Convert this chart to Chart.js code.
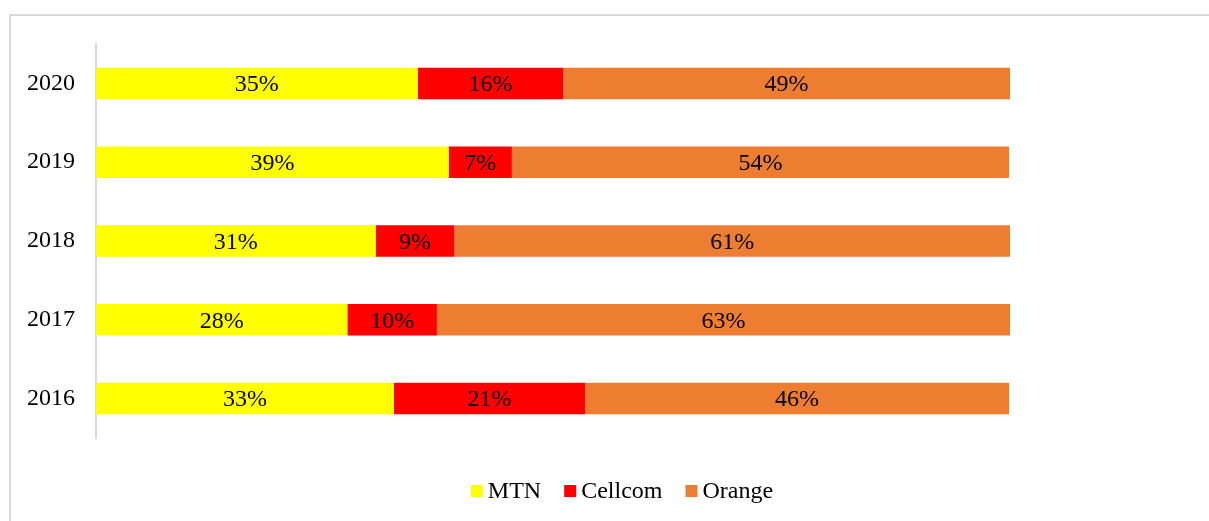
<!DOCTYPE html>
<html>
<head>
<meta charset="utf-8">
<script src="https://cdn.jsdelivr.net/npm/chart.js@4"></script>
<style>
  html, body { margin: 0; padding: 0; background: #fff; }
  #wrap { width: 1209px; height: 521px; position: relative; }
</style>
</head>
<body>
<div id="wrap"><canvas id="barChart"></canvas></div>
<script>
// Dados do gráfico
const years = ["2020", "2019", "2018", "2017", "2016"];
const mtn = [35.2, 38.6, 30.6, 27.5, 32.6];
const cellcom = [15.9, 6.9, 8.6, 9.8, 20.9];
const orange = [48.9, 54.4, 60.8, 62.7, 46.4];

const serif = "'Liberation Serif', 'Times New Roman', serif";

// moldura cinza do gráfico
const frame = {
  id: 'frame',
  beforeDraw(chart) {
    const c = chart.ctx;
    c.save();
    c.strokeStyle = '#d9d9d9';
    c.lineWidth = 2;
    c.strokeRect(10, 15, 1300, 600);
    c.restore();
  }
};

// rótulos de percentagem no meio de cada segmento
const segLabels = {
  id: 'segLabels',
  afterDatasetsDraw(chart) {
    const c = chart.ctx;
    c.save();
    c.font = "24px " + serif;
    c.fillStyle = '#000';
    c.textAlign = 'center';
    c.textBaseline = 'middle';
    chart.data.datasets.forEach((ds, i) => {
      chart.getDatasetMeta(i).data.forEach((bar, j) => {
        const cx = (bar.x + bar.base) / 2;
        c.fillText(Math.round(ds.data[j]) + '%', cx, bar.y + 1.5);
      });
    });
    c.restore();
  }
};

// legenda em baixo, estilo Excel (caixa pequena colada ao texto)
const bottomLegend = {
  id: 'bottomLegend',
  afterDraw(chart) {
    const c = chart.ctx;
    const sets = chart.data.datasets;
    c.save();
    c.font = "24px " + serif;
    c.textBaseline = 'middle';
    const box = 12, gap = 5, spacing = 23;
    const widths = sets.map(ds => box + gap + c.measureText(ds.label).width);
    const total = widths.reduce((a, b) => a + b, 0) + spacing * (sets.length - 1);
    let x = 622 - total / 2;
    const y = 491;
    sets.forEach((ds, i) => {
      c.fillStyle = ds.backgroundColor;
      c.fillRect(x, y - box / 2, box, box);
      c.fillStyle = '#000';
      c.fillText(ds.label, x + box + gap, y + 1);
      x += widths[i] + spacing;
    });
    c.restore();
  }
};

const config = {
  type: 'bar',
  data: {
    labels: years,
    datasets: [
      { label: 'MTN', data: mtn, backgroundColor: '#ffff00' },
      { label: 'Cellcom', data: cellcom, backgroundColor: '#ff0000' },
      { label: 'Orange', data: orange, backgroundColor: '#ed7d31' }
    ]
  },
  options: {
    indexAxis: 'y',
    responsive: true,
    maintainAspectRatio: false,
    animation: false,
    categoryPercentage: 0.8,
    barPercentage: 0.5,
    layout: { padding: { left: 10, right: 199, top: 44, bottom: 83 } },
    plugins: {
      legend: { display: false },
      tooltip: { enabled: false }
    },
    scales: {
      x: {
        stacked: true,
        display: false,
        min: 0,
        max: 100
      },
      y: {
        stacked: true,
        grid: { display: false },
        border: { color: '#d9d9d9', width: 2 },
        ticks: {
          font: { family: serif, size: 24 },
          color: '#000',
          padding: 13
        },
        afterFit(s) { s.width = 86; }
      }
    }
  },
  plugins: [frame, segLabels, bottomLegend]
};

// Criar gráfico
const ctx = document.getElementById('barChart').getContext('2d');
new Chart(ctx, config);
</script>
</body>
</html>
